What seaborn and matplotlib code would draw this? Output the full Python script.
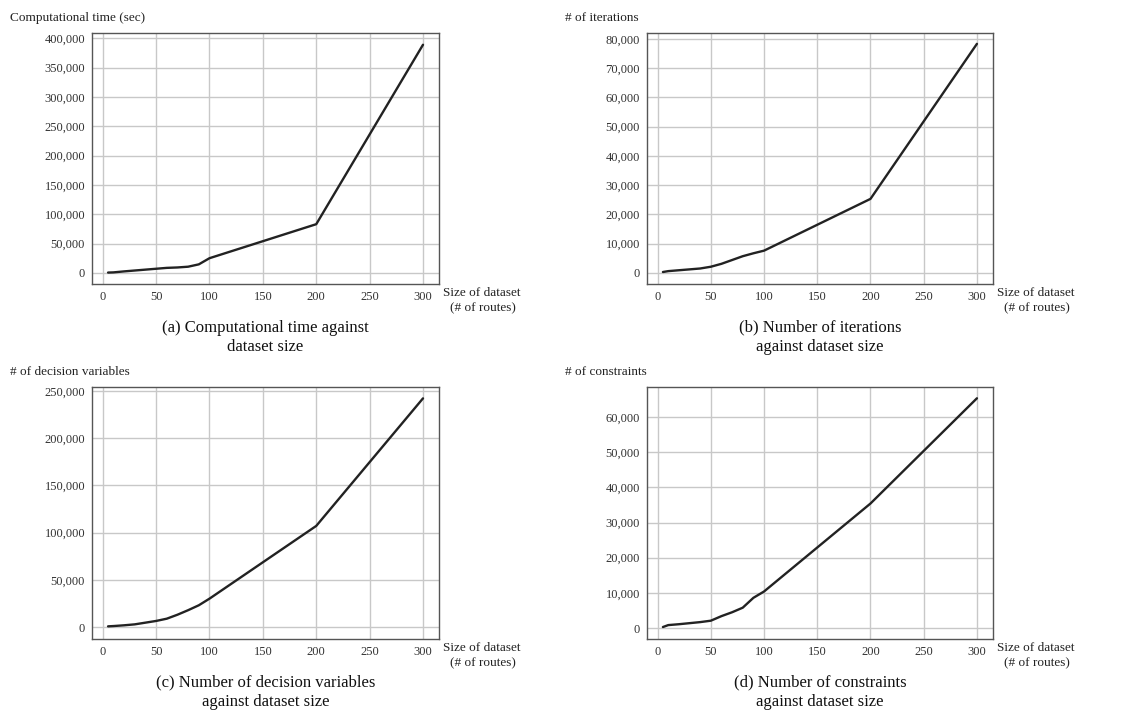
import pandas as pd
import matplotlib.pyplot as plt
import matplotlib.ticker as mticker
import seaborn as sns

# tamanho do dataset (# de rotas)
sizes = [5, 10, 20, 30, 40, 50, 60, 70, 80, 90, 100, 200, 300]

comp_time = [500, 800, 2500, 4000, 5500, 7000, 8500, 9200, 10500, 14500, 25000, 83000, 389000]
iterations = [300, 600, 900, 1200, 1500, 2100, 3100, 4400, 5700, 6700, 7600, 25300, 78300]
decision_vars = [700, 1000, 1800, 2800, 4600, 6400, 8800, 13000, 17800, 23000, 30000, 107000, 242000]
constraints = [300, 850, 1100, 1400, 1700, 2100, 3400, 4500, 5800, 8600, 10400, 35400, 65300]

y_titles = ["Computational time (sec)", "# of iterations",
            "# of decision variables", "# of constraints"]
captions = ["(a) Computational time against\ndataset size",
            "(b) Number of iterations\nagainst dataset size",
            "(c) Number of decision variables\nagainst dataset size",
            "(d) Number of constraints\nagainst dataset size"]
y_ticks = [list(range(0, 400001, 50000)), list(range(0, 80001, 10000)),
           list(range(0, 250001, 50000)), list(range(0, 60001, 10000))]
y_limits = [(-19000, 409000), (-3800, 82000), (-12700, 254000), (-3100, 68500)]
x_ticks = [0, 50, 100, 150, 200, 250, 300]

df = pd.DataFrame({
    "size": sizes,
    "time": comp_time,
    "iter": iterations,
    "dvars": decision_vars,
    "cons": constraints,
})
cols = ["time", "iter", "dvars", "cons"]

sns.set_theme(style="whitegrid", rc={
    "grid.color": "#c8c8c8",
    "grid.linewidth": 1.0,
    "axes.edgecolor": "#555555",
    "axes.linewidth": 1.0,
})
plt.rcParams["font.family"] = ["Liberation Serif", "DejaVu Serif"]

fig = plt.figure(figsize=(11.35, 7.1), dpi=100)

# posicoes dos paineis [left, bottom, width, height]
boxes = [[0.0811, 0.600, 0.3057, 0.3535],
         [0.5700, 0.600, 0.3048, 0.3535],
         [0.0811, 0.100, 0.3057, 0.3549],
         [0.5700, 0.100, 0.3048, 0.3549]]

for i in range(4):
    ax = fig.add_axes(boxes[i])
    sns.lineplot(data=df, x="size", y=cols[i], ax=ax, color="#222222", linewidth=1.7)
    ax.set_xlim(-10, 315)
    ax.set_ylim(*y_limits[i])
    ax.set_xticks(x_ticks)
    ax.set_yticks(y_ticks[i])
    ax.yaxis.set_major_formatter(mticker.StrMethodFormatter("{x:,.0f}"))
    ax.tick_params(axis="both", length=0, labelsize=9, colors="#333333", pad=5)
    ax.set_xlabel("")
    ax.set_ylabel("")
    for s in ax.spines.values():
        s.set_visible(True)

    l, b, w, h = boxes[i]
    # titulo do eixo y em cima a esquerda
    fig.text(l - 0.072, b + h + 0.013, y_titles[i], fontsize=9.5, color="#222222",
             va="bottom", ha="left")
    # rotulo do eixo x a direita
    fig.text(l + w + 0.0035, b - 0.012, "Size of dataset", fontsize=9.5,
             color="#222222", ha="left", va="center")
    fig.text(l + w + 0.0035 + 0.035, b - 0.034, "(# of routes)", fontsize=9.5,
             color="#222222", ha="center", va="center")
    # legenda do painel
    fig.text(l + w * 0.5, b - 0.050, captions[i], fontsize=12, color="#111111",
             ha="center", va="top", linespacing=1.3)

fig.savefig("out.png", dpi=100)
